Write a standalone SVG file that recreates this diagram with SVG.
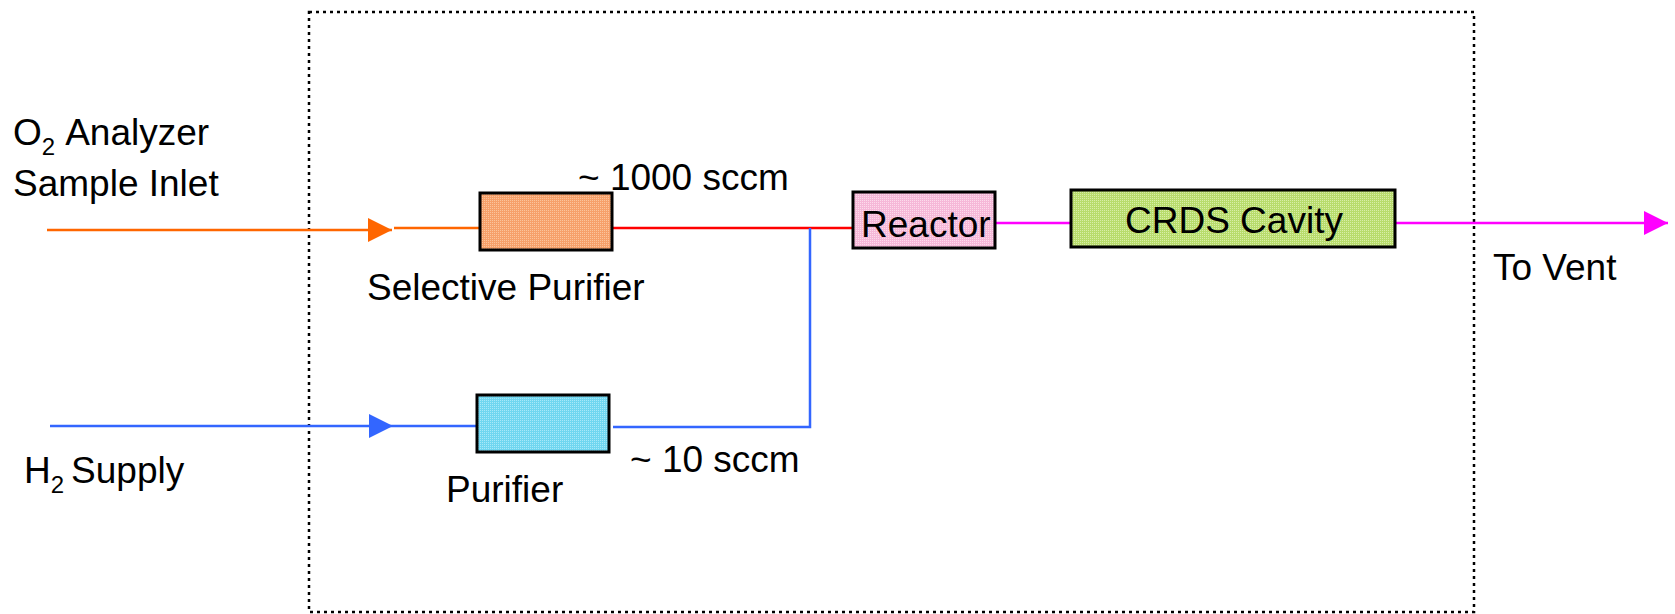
<svg xmlns="http://www.w3.org/2000/svg" width="1675" height="614" viewBox="0 0 1675 614">
  <style>
    .lbl { font-family: "Liberation Sans", Arial, sans-serif; font-size: 37px; fill: #000; }
    .sub { font-size: 24px; }
    .box { stroke: #000; stroke-width: 3; }
    .pipe { fill: none; stroke-width: 2.5; }
    .frame { fill: none; stroke: #000; stroke-width: 2.5; stroke-dasharray: 3 4; }
  </style>
  <defs>
    <!-- fine halftone fills for the component boxes -->
    <pattern id="dotOrange" patternUnits="userSpaceOnUse" width="2" height="2">
      <rect width="2" height="2" fill="#F6A06A"/>
      <rect width="1" height="1" fill="#FBC49C"/>
    </pattern>
    <pattern id="dotCyan" patternUnits="userSpaceOnUse" width="2" height="2">
      <rect width="2" height="2" fill="#70D6F0"/>
      <rect width="1" height="1" fill="#A8E8F8"/>
    </pattern>
    <pattern id="dotPink" patternUnits="userSpaceOnUse" width="2" height="2">
      <rect width="2" height="2" fill="#F6B8D8"/>
      <rect width="1" height="1" fill="#FCDCEC"/>
    </pattern>
    <pattern id="dotGreen" patternUnits="userSpaceOnUse" width="2" height="2">
      <rect width="2" height="2" fill="#B8DC6C"/>
      <rect width="1" height="1" fill="#D8EEA8"/>
    </pattern>
    <marker id="arrOrange" markerUnits="userSpaceOnUse" markerWidth="26" markerHeight="26" refX="24" refY="12" orient="auto">
      <path d="M0,0 L24,12 L0,24 Z" fill="#FF6600"/>
    </marker>
    <marker id="arrBlue" markerUnits="userSpaceOnUse" markerWidth="26" markerHeight="26" refX="24" refY="12" orient="auto">
      <path d="M0,0 L24,12 L0,24 Z" fill="#3366FF"/>
    </marker>
    <marker id="arrMagenta" markerUnits="userSpaceOnUse" markerWidth="26" markerHeight="26" refX="24" refY="12" orient="auto">
      <path d="M0,0 L24,12 L0,24 Z" fill="#FF00FF"/>
    </marker>
  </defs>
  <rect width="1675" height="614" fill="#fff"/>

  <!-- instrument enclosure -->
  <rect id="enclosure" class="frame" x="309" y="12" width="1165" height="600"/>

  <!-- gas lines -->
  <g id="connectors">
    <line class="pipe" x1="47" y1="230" x2="392" y2="230" stroke="#FF6600" marker-end="url(#arrOrange)"/>
    <line class="pipe" x1="394" y1="228" x2="480" y2="228" stroke="#FF6600"/>
    <line class="pipe" x1="612" y1="228" x2="853" y2="228" stroke="#FF0000"/>
    <line class="pipe" x1="50" y1="426" x2="393" y2="426" stroke="#3366FF" marker-end="url(#arrBlue)"/>
    <line class="pipe" x1="393" y1="426" x2="477" y2="426" stroke="#3366FF"/>
    <polyline class="pipe" points="613,427 810,427 810,228" stroke="#3366FF"/>
    <line class="pipe" x1="996" y1="223" x2="1071" y2="223" stroke="#FF00FF"/>
    <line class="pipe" x1="1396" y1="223" x2="1668" y2="223" stroke="#FF00FF" marker-end="url(#arrMagenta)"/>
  </g>

  <!-- components -->
  <g id="selective-purifier">
    <rect class="box" x="480" y="193" width="132" height="57" fill="url(#dotOrange)"/>
    <text class="lbl" x="367" y="300">Selective Purifier</text>
  </g>
  <g id="purifier">
    <rect class="box" x="477" y="395" width="132" height="57" fill="url(#dotCyan)"/>
    <text class="lbl" x="446" y="502">Purifier</text>
  </g>
  <g id="reactor">
    <rect class="box" x="853" y="192" width="142" height="56" fill="url(#dotPink)"/>
    <text class="lbl" x="861" y="237">Reactor</text>
  </g>
  <g id="crds-cavity">
    <rect class="box" x="1071" y="190" width="324" height="57" fill="url(#dotGreen)"/>
    <text class="lbl" x="1125" y="233">CRDS Cavity</text>
  </g>

  <!-- labels -->
  <g id="o2-inlet">
    <text class="lbl" x="13" y="145">O<tspan class="sub" dy="10">2</tspan><tspan dy="-10" dx="10">Analyzer</tspan></text>
    <text class="lbl" x="13" y="196">Sample Inlet</text>
  </g>
  <g id="h2-supply">
    <text class="lbl" x="24" y="483">H<tspan class="sub" dy="10">2</tspan><tspan dy="-10" dx="7">Supply</tspan></text>
  </g>
  <text class="lbl" x="578" y="190">~ 1000 sccm</text>
  <text class="lbl" x="630" y="472">~ 10 sccm</text>
  <text class="lbl" x="1493" y="280">To Vent</text>
</svg>
